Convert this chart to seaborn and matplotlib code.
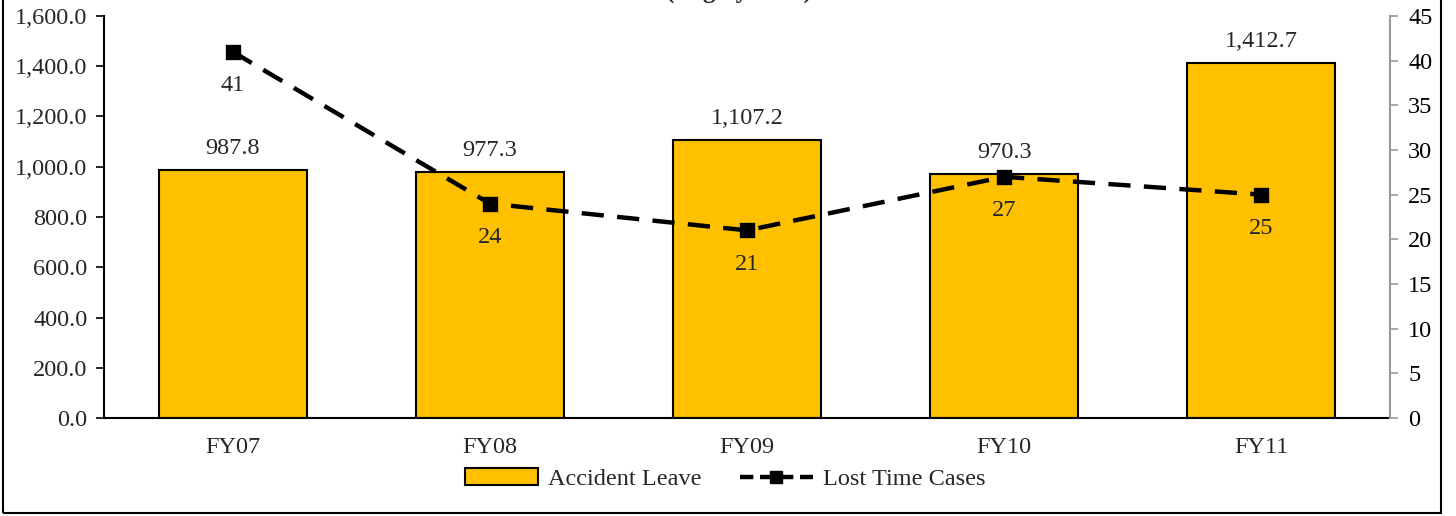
import numpy as np
import seaborn as sns
import matplotlib.pyplot as plt
from matplotlib.patches import Rectangle
from matplotlib.lines import Line2D
from matplotlib.ticker import FuncFormatter

# Chart data
years = ["FY07", "FY08", "FY09", "FY10", "FY11"]
accident_leave = [987.8, 977.3, 1107.2, 970.3, 1412.7]
lost_time_cases = [41, 24, 21, 27, 25]
bar_labels = ["987.8", "977.3", "1,107.2", "970.3", "1,412.7"]

sns.set_style("white")
plt.rcParams["font.family"] = ["Liberation Serif", "DejaVu Serif"]
FS = 17.5

fig = plt.figure(figsize=(14.56, 5.16), dpi=100)
ax = fig.add_axes([104 / 1456, 98 / 516, 1286 / 1456, 402 / 516])

sns.barplot(x=years, y=accident_leave, ax=ax, color="#FFC000",
            edgecolor="black", linewidth=1.5, width=0.575, saturation=1)
ax.set_ylim(0, 1600)
ax.set_xlim(-0.5, 4.5)
ax.set_yticks(np.arange(0, 1601, 200))
ax.yaxis.set_major_formatter(FuncFormatter(lambda v, p: f"{v:,.1f}"))
for s in ["top", "right"]:
    ax.spines[s].set_visible(False)
for s in ["left", "bottom"]:
    ax.spines[s].set_color("black")
    ax.spines[s].set_linewidth(1.5)
ax.tick_params(axis="y", which="major", left=True, length=6, width=1.2,
               labelsize=FS, color="black", pad=6)
ax.tick_params(axis="x", bottom=False, labelsize=FS, pad=10)
ax.set_xlabel("")
ax.set_ylabel("")

for i, v in enumerate(accident_leave):
    ax.annotate(bar_labels[i], (i, v), xytext=(0, 8), textcoords="offset points",
                ha="center", va="bottom", fontsize=FS)

ax2 = ax.twinx()
sns.pointplot(x=years, y=lost_time_cases, ax=ax2, color="black",
              linestyles="--", markers="s", markersize=8, linewidth=3.2)
ax2.lines[0].set_dashes((5, 3))
ax2.set_ylim(0, 45)
ax2.set_xlim(-0.5, 4.5)
ax2.set_yticks(np.arange(0, 46, 5))
for s in ["top", "left", "bottom"]:
    ax2.spines[s].set_visible(False)
ax2.spines["right"].set_color("#999999")
ax2.spines["right"].set_linewidth(1.5)
ax2.tick_params(axis="y", right=True, length=6, width=1.2, color="#999999",
                labelsize=FS, labelcolor="black", pad=7)
ax2.set_ylabel("")

for i, v in enumerate(lost_time_cases):
    ax2.annotate(str(v), (i, v), xytext=(0, -17), textcoords="offset points",
                 ha="center", va="top", fontsize=FS)

handles = [
    Rectangle((0, 0), 1, 1, facecolor="#FFC000", edgecolor="black", linewidth=1.5),
    Line2D([0], [0], color="black", linestyle=(0, (3, 1.5)), linewidth=3.2,
           marker="s", markersize=9),
]
fig.legend(handles, ["Accident Leave", "Lost Time Cases"], loc="center",
           bbox_to_anchor=(725 / 1456, 1 - 479 / 516), ncol=2, frameon=False,
           fontsize=FS, handlelength=3.0, columnspacing=1.6, handletextpad=0.4)

# cut-off title and outer frame
fig.text(739 / 1456, 1.004, "(Avg by Year)", ha="center", va="baseline",
         fontsize=18, fontweight="bold")
fig.patches.append(Rectangle((3 / 1456, 3 / 516), 1438 / 1456, 1.2,
                             transform=fig.transFigure, fill=False,
                             edgecolor="black", linewidth=1.5, clip_on=False))

fig.savefig("out.png", dpi=100)
